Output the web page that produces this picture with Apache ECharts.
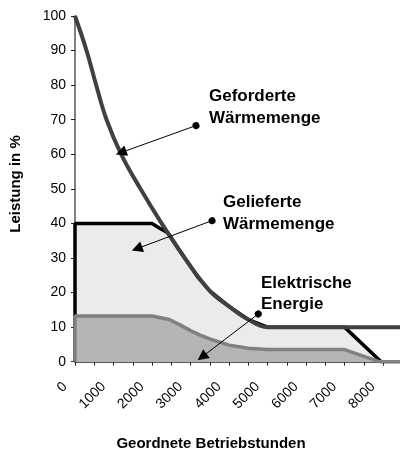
<!DOCTYPE html>
<html>
<head>
<meta charset="utf-8">
<script src="https://cdn.jsdelivr.net/npm/echarts@6/dist/echarts.min.js"></script>
<style>
  html, body { margin: 0; padding: 0; background: #fff; }
  #chart { width: 400px; height: 453px; }
</style>
</head>
<body>
<div id="chart"></div>
<script>
// [Betriebstunden, Leistung in %]
var geforderte = [[0, 100], [300, 90], [550, 80], [820, 70], [1200, 60], [1700, 50], [2250, 40],
    [2850, 30], [3500, 20.5], [4000, 16], [4500, 12.2], [5000, 10], [8760, 10]];
var gelieferte = [[0, 0], [0, 40], [2000, 40], [2200, 38.6], [2420, 37.2], [2850, 30], [3200, 24.3],
    [3500, 20.5], [4000, 16], [4500, 12.2], [5000, 10], [7000, 10], [7950, 0], [8760, 0]];
var elektrisch = [[0, 0], [0, 13.2], [2000, 13.2], [2450, 12.2], [2750, 10.5], [3000, 9], [3250, 7.7],
    [3500, 6.6], [4000, 4.8], [4500, 3.9], [5000, 3.5], [7000, 3.5], [7900, 0], [8760, 0]];

// arrows: [dot, arrow head]
var pfeilGef = [[3143, 68.3], [1195, 60.5]];
var pfeilGel = [[3560, 40.8], [1610, 32.7]];
var pfeilEl = [[4760, 13.8], [3300, 1.4]];

var labelGef = 'Geforderte\nWärmemenge';
var labelGel = 'Gelieferte\nWärmemenge';
var labelEl = 'Elektrische\nEnergie';

var font = '"Liberation Sans", Arial, sans-serif';

function arrow(p) {
    return [{coord: p[0], symbol: 'circle', symbolSize: 7},
            {coord: p[1], symbol: 'triangle', symbolSize: 11}];
}

var chart = echarts.init(document.getElementById('chart'));
var option = {
    animation: false,
    grid: {left: 75, top: 16, right: -12.3, bottom: 91.3, outerBoundsMode: 'none', containLabel: false},
    xAxis: {
        type: 'value',
        min: 0,
        max: 8760,
        interval: 500,
        axisLine: {lineStyle: {color: '#222', width: 1.5}},
        axisTick: {show: true, length: 4, lineStyle: {color: '#222'}},
        splitLine: {show: false},
        axisLabel: {
            rotate: 45,
            margin: 13,
            padding: [0, 14, 0, 0],
            color: '#000',
            fontSize: 14,
            fontFamily: font,
            showMaxLabel: false,
            formatter: function (v) {
                return v % 1000 === 0 ? String(v) : '';
            }
        }
    },
    yAxis: {
        type: 'value',
        min: 0,
        max: 100,
        interval: 10,
        axisLine: {show: true, lineStyle: {color: '#808080', width: 2}},
        axisTick: {show: true, length: 4, lineStyle: {color: '#222'}},
        splitLine: {show: false},
        axisLabel: {margin: 9, color: '#000', fontSize: 14, fontFamily: font}
    },
    graphic: [
        {type: 'text', left: 209, top: 86, style: {text: labelGef, font: 'bold 17px ' + font, lineHeight: 21.5, fill: '#000'}},
        {type: 'text', left: 223, top: 192, style: {text: labelGel, font: 'bold 17px ' + font, lineHeight: 21.5, fill: '#000'}},
        {type: 'text', left: 261, top: 272.5, style: {text: labelEl, font: 'bold 17px ' + font, lineHeight: 21.5, fill: '#000'}},
        {type: 'text', x: 15.5, y: 184, rotation: Math.PI / 2,
            style: {text: 'Leistung in %', font: 'bold 15px ' + font, fill: '#000', align: 'center', verticalAlign: 'middle'}},
        {type: 'text', x: 211, y: 444,
            style: {text: 'Geordnete Betriebstunden', font: 'bold 15px ' + font, fill: '#000', align: 'center', verticalAlign: 'middle'}}
    ],
    series: [
        {
            name: 'Gelieferte Wärmemenge',
            type: 'line',
            data: gelieferte,
            symbol: 'none',
            lineStyle: {color: '#000', width: 3.5},
            areaStyle: {color: '#ebebeb', opacity: 1},
            z: 2
        },
        {
            name: 'Elektrische Energie',
            type: 'line',
            data: elektrisch,
            symbol: 'none',
            lineStyle: {color: '#808080', width: 3.5},
            areaStyle: {color: '#b4b4b4', opacity: 1},
            z: 3
        },
        {
            name: 'Geforderte Wärmemenge',
            type: 'line',
            data: geforderte,
            symbol: 'none',
            smooth: 0.4,
            lineStyle: {color: '#404040', width: 4},
            z: 4,
            markLine: {
                silent: true,
                animation: false,
                label: {show: false},
                lineStyle: {color: '#000', width: 1, type: 'solid'},
                data: [arrow(pfeilGef), arrow(pfeilGel), arrow(pfeilEl)]
            }
        }
    ]
};
chart.setOption(option);
</script>
</body>
</html>
